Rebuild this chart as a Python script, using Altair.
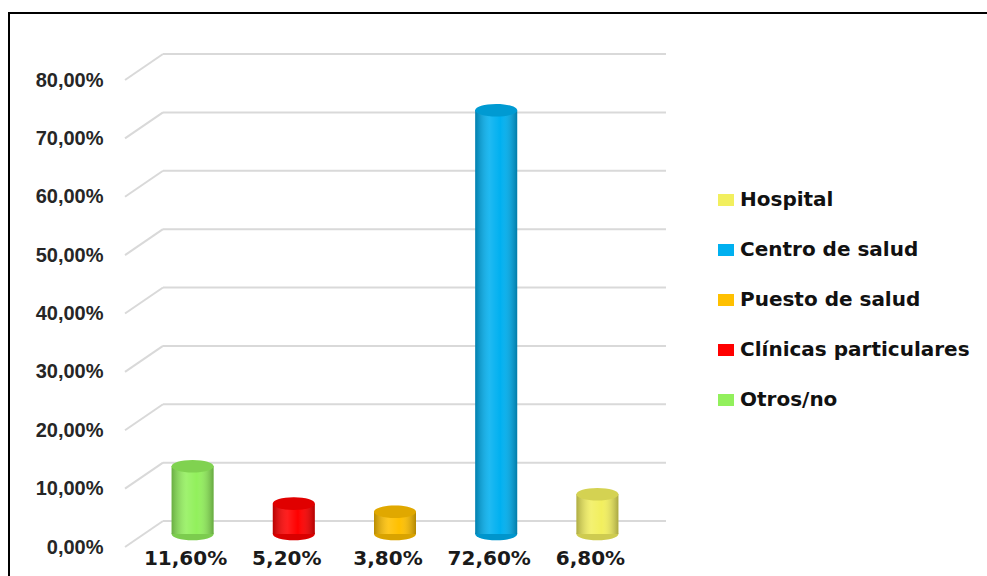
import altair as alt
import pandas as pd

# ---- data ----
categories = ["Otros/no", "Clínicas particulares", "Puesto de salud", "Centro de salud", "Hospital"]
values = [11.6, 5.2, 3.8, 72.6, 6.8]
value_labels = ["11,60%", "5,20%", "3,80%", "72,60%", "6,80%"]
legend_order = ["Hospital", "Centro de salud", "Puesto de salud", "Clínicas particulares", "Otros/no"]
legend_colors = ["#F2EF5E", "#00B0F0", "#FFC000", "#FF0000", "#92F05C"]
y_ticks = [0, 10, 20, 30, 40, 50, 60, 70, 80]

df = pd.DataFrame({"cat": categories, "val": values, "label": value_labels})
grid_df = pd.DataFrame({"v": y_ticks})

# ---- layout / style ----
W, H = 541, 467
PAD_L, PAD_T = 125, 80
DEPTH_X, DEPTH_Y = 38, -26
MID = -13
BAR_W = 42
ELL = "M-1,0A1,0.3 0 1,1 1,0A1,0.3 0 1,1 -1,0Z"
RECT = "M-1,-0.75L1,-0.75L1,0.75L-1,0.75Z"
GRID = "#D9D9D9"

yscale = alt.Scale(domain=[0, 80], nice=False, zero=True)
xscale = alt.Scale(domain=categories, range=[17, 523], paddingInner=0.585, paddingOuter=0.2925)
X = alt.X("cat:N", scale=xscale, axis=None, sort=categories)
color_scale = alt.Scale(domain=legend_order, range=legend_colors)

legend = alt.Legend(
    orient="none", legendX=591, legendY=110, title=None,
    symbolType=RECT, symbolSize=256, symbolStrokeWidth=0, symbolOpacity=1,
    labelFont="DejaVu Sans", labelFontWeight="bold", labelFontSize=20,
    labelColor="#111111", labelOffset=4, labelLimit=0, rowPadding=30, padding=0,
)
COLOR = alt.Color("cat:N", scale=color_scale, legend=legend)

base_grid = alt.Chart(grid_df)
back = base_grid.mark_rule(color=GRID, strokeWidth=2, yOffset=DEPTH_Y).encode(
    y=alt.Y("v:Q", scale=yscale, axis=alt.Axis(
        values=y_ticks,
        labelExpr="replace(format(datum.value, '.2f'), '.', ',') + '%'",
        ticks=False, tickSize=0, domain=False, grid=False, labelPadding=22,
        labelFont="Liberation Sans", labelFontWeight="bold", labelFontSize=20,
        labelColor="#262626", title=None)),
    x=alt.value(DEPTH_X), x2=alt.value(W),
)
diag = base_grid.mark_rule(color=GRID, strokeWidth=2, y2Offset=DEPTH_Y).encode(
    y=alt.Y("v:Q", scale=yscale), y2=alt.Y2("v:Q"),
    x=alt.value(0), x2=alt.value(DEPTH_X),
)

base = alt.Chart(df)
bottom_ell = base.mark_point(shape=ELL, size=BAR_W ** 2, filled=True, opacity=1,
                             strokeWidth=0, yOffset=MID).encode(
    x=X, y=alt.datum(0, scale=yscale), color=COLOR,
)
bars = base.mark_bar(yOffset=MID, y2Offset=MID, opacity=1).encode(
    x=X, y=alt.Y("val:Q", scale=yscale), color=COLOR,
)
shade = base.mark_bar(yOffset=MID, y2Offset=MID, color=alt.Gradient(
    gradient="linear", x1=0, x2=1, y1=0, y2=0,
    stops=[
        alt.GradientStop(color="rgba(0,0,0,0.28)", offset=0),
        alt.GradientStop(color="rgba(255,255,255,0.12)", offset=0.35),
        alt.GradientStop(color="rgba(255,255,255,0.0)", offset=0.6),
        alt.GradientStop(color="rgba(0,0,0,0.3)", offset=1),
    ])).encode(x=X, y=alt.Y("val:Q", scale=yscale))
bottom_shade = base.mark_point(shape=ELL, size=BAR_W ** 2, filled=True, opacity=0.15,
                               color="black", strokeWidth=0, yOffset=MID).encode(
    x=X, y=alt.datum(0, scale=yscale))
top_ell = base.mark_point(shape=ELL, size=BAR_W ** 2, filled=True, opacity=1,
                          strokeWidth=0, yOffset=MID).encode(
    x=X, y=alt.Y("val:Q", scale=yscale), color=COLOR,
)
top_shade = base.mark_point(shape=ELL, size=BAR_W ** 2, filled=True, opacity=0.12,
                            color="black", strokeWidth=0, yOffset=MID).encode(
    x=X, y=alt.Y("val:Q", scale=yscale))

texts = base.mark_text(font="DejaVu Sans", fontWeight="bold", fontSize=20,
                       color="#1a1a1a", baseline="middle", dy=12, dx=-7).encode(
    x=X, y=alt.datum(0, scale=yscale), text="label:N")

border = alt.Chart(pd.DataFrame({"a": [0]})).mark_rect(
    fillOpacity=0, stroke="black", strokeWidth=2).encode(
    x=alt.value(9 - PAD_L), y=alt.value(13 - PAD_T),
    x2=alt.value(987 - PAD_L + 20), y2=alt.value(576 - PAD_T + 20),
)

chart = alt.layer(
    back, diag, bottom_ell, bottom_shade, bars, shade, top_ell, top_shade, texts, border
).properties(
    width=W, height=H,
    padding={"left": PAD_L, "top": PAD_T, "right": 987 - PAD_L - W, "bottom": 576 - PAD_T - H},
    autosize=alt.AutoSizeParams(type="none"),
    background="white",
).configure_view(stroke=None)

chart.save("out.html", embed_options={"renderer": "svg", "actions": False})
